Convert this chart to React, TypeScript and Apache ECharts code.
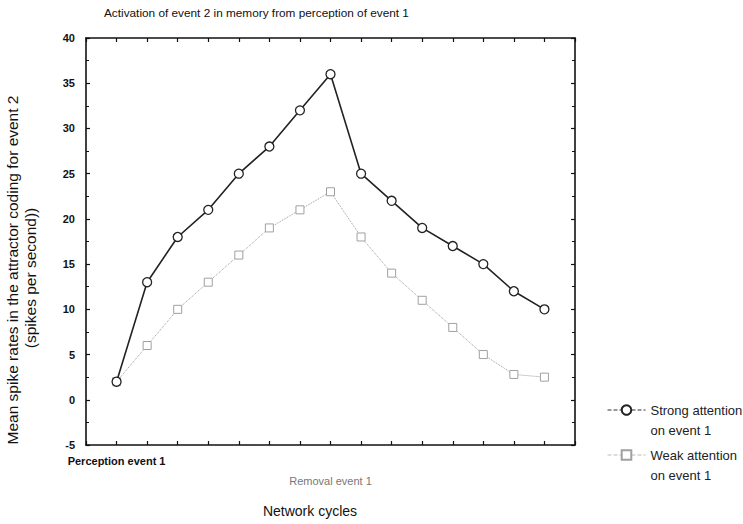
import React, { useEffect, useRef } from "react";
import * as echarts from "echarts";

const cycles = [0, 1, 2, 3, 4, 5, 6, 7, 8, 9, 10, 11, 12, 13, 14];
const strongAttention = [2, 13, 18, 21, 25, 28, 32, 36, 25, 22, 19, 17, 15, 12, 10];
const weakAttention = [2, 6, 10, 13, 16, 19, 21, 23, 18, 14, 11, 8, 5, 2.8, 2.5];
const xTickLabels: Record<number, string> = { 0: "Perception event 1", 7: "Removal event 1" };
const seriesNames = ["Strong attention\non event 1", "Weak attention\non event 1"];

const FONT = "'Liberation Sans', Arial, sans-serif";

export default function App() {
  const ref = useRef<HTMLDivElement>(null);
  useEffect(() => {
    if (!ref.current) return;
    const chart = echarts.init(ref.current, undefined, { renderer: "svg" });
    const frameAxisLine = { show: true, onZero: false, lineStyle: { color: "#111", width: 1.6 } };
    const xCommon = {
      type: "value" as const,
      min: -1,
      max: 15,
      interval: 1,
      splitLine: { show: false },
      axisLine: frameAxisLine,
      axisTick: { show: true, inside: true, length: 4, lineStyle: { color: "#111", width: 1.2 } },
    };
    const yCommon = {
      type: "value" as const,
      min: -5,
      max: 40,
      interval: 5,
      splitLine: { show: false },
      axisLine: frameAxisLine,
      axisTick: { show: true, inside: true, length: 4, lineStyle: { color: "#111", width: 1.2 } },
      minorTick: { show: true, splitNumber: 2, length: 3, lineStyle: { color: "#111", width: 1 } },
      minorSplitLine: { show: false },
    };
    chart.setOption({
      animation: false,
      backgroundColor: "#fff",
      title: {
        text: "Activation of event 2 in memory from perception of event 1",
        left: 104,
        top: 7,
        padding: 0,
        textStyle: { fontFamily: FONT, fontSize: 11.8, fontWeight: "normal", color: "#111" },
      },
      grid: { left: 86, right: 168, top: 38, bottom: 79 },
      xAxis: [
        {
          ...xCommon,
          position: "bottom",
          axisLabel: {
            show: true,
            margin: 10,
            formatter: (v: number) =>
              v === 0 ? `{a|${xTickLabels[0]}}` : v === 7 ? `{b|${xTickLabels[7]}}` : "",
            rich: {
              a: { fontFamily: FONT, fontSize: 11, fontWeight: "bold", color: "#111" },
              b: { fontFamily: FONT, fontSize: 11, color: "#777", padding: [20, 0, 0, 0] },
            },
          },
        },
        { ...xCommon, position: "top", axisLabel: { show: false } },
      ],
      yAxis: [
        {
          ...yCommon,
          position: "left",
          axisLabel: {
            show: true,
            margin: 11,
            fontFamily: FONT,
            fontSize: 11,
            fontWeight: "bold",
            color: "#111",
          },
        },
        { ...yCommon, position: "right", axisLabel: { show: false } },
      ],
      legend: {
        orient: "vertical",
        left: 602,
        top: 375,
        itemWidth: 38,
        itemHeight: 12,
        itemGap: -15,
        formatter: (name: string) => "\n" + name,
        textStyle: {
          fontFamily: FONT,
          fontSize: 13,
          color: "#222",
          lineHeight: 20,
        },
        data: [
          {
            name: seriesNames[0],
            lineStyle: { type: "dashed", color: "#333", width: 1 },
          },
          {
            name: seriesNames[1],
            lineStyle: { type: "dashed", color: "#bbb", width: 1 },
          },
        ],
      },
      graphic: [
        {
          type: "text",
          x: 4,
          y: 270,
          rotation: Math.PI / 2,
          style: {
            text: "Mean spike rates in the attractor coding for event 2",
            fontFamily: FONT,
            fontSize: 15.5,
            fill: "#111",
            align: "center",
            verticalAlign: "top",
          },
        },
        {
          type: "text",
          x: 22,
          y: 278,
          rotation: Math.PI / 2,
          style: {
            text: "(spikes per second))",
            fontFamily: FONT,
            fontSize: 15.5,
            fill: "#111",
            align: "center",
            verticalAlign: "top",
          },
        },
        {
          type: "text",
          x: 310,
          y: 504,
          style: {
            text: "Network cycles",
            fontFamily: FONT,
            fontSize: 14,
            fill: "#111",
            align: "center",
            verticalAlign: "top",
          },
        },
      ],
      series: [
        {
          name: seriesNames[0],
          type: "line",
          xAxisIndex: 0,
          yAxisIndex: 0,
          data: cycles.map((c, i) => [c, strongAttention[i]]),
          symbol: "circle",
          symbolSize: 9,
          lineStyle: { color: "#222", width: 1.6 },
          itemStyle: { color: "#fff", borderColor: "#222", borderWidth: 1.3 },
          z: 3,
        },
        {
          name: seriesNames[1],
          type: "line",
          xAxisIndex: 0,
          yAxisIndex: 0,
          data: cycles.map((c, i) => [c, weakAttention[i]]),
          symbol: "rect",
          symbolSize: 8,
          lineStyle: { color: "#9a9a9a", width: 1, type: "dotted" },
          itemStyle: { color: "#fff", borderColor: "#a0a0a0", borderWidth: 1 },
          z: 2,
        },
      ],
    });
    return () => chart.dispose();
  }, []);
  return <div ref={ref} style={{ width: 743, height: 524, position: "absolute", left: 0, top: 0 }} />;
}
